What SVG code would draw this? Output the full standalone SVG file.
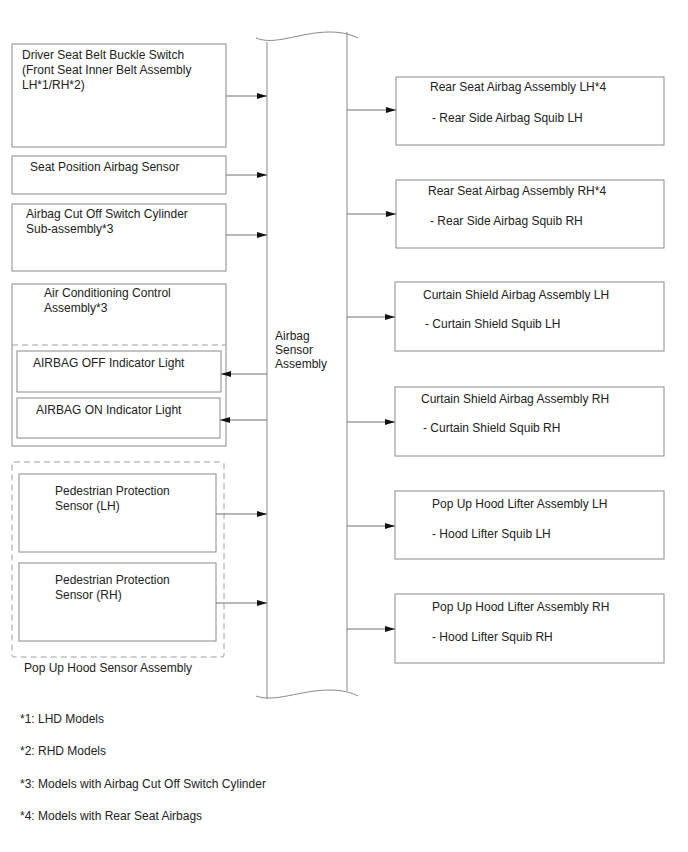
<svg xmlns="http://www.w3.org/2000/svg" width="688" height="852" viewBox="0 0 688 852">
<defs>
<style>
.box{fill:#fff;stroke:#8a8a8a;stroke-width:1}
.dash{fill:none;stroke:#a0a0a0;stroke-width:1;stroke-dasharray:6,4}
.ln{fill:none;stroke:#8a8a8a;stroke-width:1}
.c{fill:none;stroke:#707070;stroke-width:1}
text{font-family:"Liberation Sans",Arial,sans-serif;font-size:12px;fill:#222}
</style>
<marker id="ah" viewBox="0 0 10 6" refX="10" refY="3" markerWidth="10" markerHeight="6" markerUnits="userSpaceOnUse" orient="auto">
<path d="M0,0 L10,3 L0,6 Z" fill="#111"/>
</marker>
</defs>
<rect width="688" height="852" fill="#fff"/>

<g id="sensor-assembly">
<path class="ln" d="M256,38 C275,46 300,32 330,32 C343,32 352,35 358,38"/>
<path class="ln" d="M256,696 C275,703 300,690 330,690 C343,690 352,693 358,696"/>
<line class="ln" x1="267" y1="42" x2="267" y2="699"/>
<line class="ln" x1="347" y1="32" x2="347" y2="691"/>
<text x="275" y="340">Airbag</text>
<text x="275" y="354">Sensor</text>
<text x="275" y="368">Assembly</text>
</g>

<g id="buckle-switch">
<rect class="box" x="12" y="44" width="214" height="103"/>
<text x="22" y="59">Driver Seat Belt Buckle Switch</text>
<text x="22" y="74">(Front Seat Inner Belt Assembly</text>
<text x="22" y="89">LH*1/RH*2)</text>
</g>

<g id="seat-position">
<rect class="box" x="12" y="156" width="214" height="38"/>
<text x="30" y="171">Seat Position Airbag Sensor</text>
</g>

<g id="cutoff-switch">
<rect class="box" x="12" y="204" width="214" height="67"/>
<text x="26" y="218">Airbag Cut Off Switch Cylinder</text>
<text x="26" y="233">Sub-assembly*3</text>
</g>

<g id="ac-control">
<rect class="box" x="12" y="284" width="214" height="162"/>
<line class="dash" x1="12" y1="345" x2="226" y2="345"/>
<text x="44" y="297">Air Conditioning Control</text>
<text x="44" y="312">Assembly*3</text>
</g>

<g id="airbag-off">
<rect class="box" x="17" y="351" width="204" height="41"/>
<text x="33" y="367">AIRBAG OFF Indicator Light</text>
</g>

<g id="airbag-on">
<rect class="box" x="17" y="398" width="203" height="40"/>
<text x="36" y="414">AIRBAG ON Indicator Light</text>
</g>

<g id="hood-sensor-assembly">
<rect class="dash" x="12" y="462" width="212" height="195" rx="2"/>
<text x="24" y="672">Pop Up Hood Sensor Assembly</text>
</g>

<g id="ped-lh">
<rect class="box" x="19" y="474" width="197" height="78"/>
<text x="55" y="495">Pedestrian Protection</text>
<text x="55" y="510">Sensor (LH)</text>
</g>

<g id="ped-rh">
<rect class="box" x="19" y="563" width="197" height="78"/>
<text x="55" y="584">Pedestrian Protection</text>
<text x="55" y="599">Sensor (RH)</text>
</g>

<g id="rear-lh">
<rect class="box" x="396" y="77" width="268" height="68"/>
<text x="430" y="91">Rear Seat Airbag Assembly LH*4</text>
<text x="432" y="122">- Rear Side Airbag Squib LH</text>
</g>

<g id="rear-rh">
<rect class="box" x="396" y="180" width="268" height="68"/>
<text x="428" y="195">Rear Seat Airbag Assembly RH*4</text>
<text x="430" y="225">- Rear Side Airbag Squib RH</text>
</g>

<g id="curtain-lh">
<rect class="box" x="395" y="282" width="269" height="69"/>
<text x="423" y="299">Curtain Shield Airbag Assembly LH</text>
<text x="425" y="328">- Curtain Shield Squib LH</text>
</g>

<g id="curtain-rh">
<rect class="box" x="395" y="387" width="269" height="69"/>
<text x="421" y="403">Curtain Shield Airbag Assembly RH</text>
<text x="423" y="432">- Curtain Shield Squib RH</text>
</g>

<g id="hood-lh">
<rect class="box" x="395" y="491" width="269" height="68"/>
<text x="432" y="508">Pop Up Hood Lifter Assembly LH</text>
<text x="432" y="538">- Hood Lifter Squib LH</text>
</g>

<g id="hood-rh">
<rect class="box" x="395" y="594" width="269" height="69"/>
<text x="432" y="611">Pop Up Hood Lifter Assembly RH</text>
<text x="432" y="641">- Hood Lifter Squib RH</text>
</g>

<g id="connectors">
<line class="c" x1="226" y1="96" x2="267" y2="96" marker-end="url(#ah)"/>
<line class="c" x1="226" y1="175" x2="267" y2="175" marker-end="url(#ah)"/>
<line class="c" x1="226" y1="235" x2="267" y2="235" marker-end="url(#ah)"/>
<line class="c" x1="267" y1="374" x2="221" y2="374" marker-end="url(#ah)"/>
<line class="c" x1="267" y1="420" x2="220" y2="420" marker-end="url(#ah)"/>
<line class="c" x1="216" y1="514" x2="267" y2="514" marker-end="url(#ah)"/>
<line class="c" x1="216" y1="603" x2="267" y2="603" marker-end="url(#ah)"/>
<line class="c" x1="347" y1="110" x2="396" y2="110" marker-end="url(#ah)"/>
<line class="c" x1="347" y1="214" x2="396" y2="214" marker-end="url(#ah)"/>
<line class="c" x1="347" y1="317" x2="395" y2="317" marker-end="url(#ah)"/>
<line class="c" x1="347" y1="422" x2="395" y2="422" marker-end="url(#ah)"/>
<line class="c" x1="347" y1="526" x2="395" y2="526" marker-end="url(#ah)"/>
<line class="c" x1="347" y1="629" x2="395" y2="629" marker-end="url(#ah)"/>
</g>

<g id="notes">
<text x="20" y="723">*1: LHD Models</text>
<text x="20" y="755">*2: RHD Models</text>
<text x="20" y="788">*3: Models with Airbag Cut Off Switch Cylinder</text>
<text x="20" y="820">*4: Models with Rear Seat Airbags</text>
</g>
</svg>
